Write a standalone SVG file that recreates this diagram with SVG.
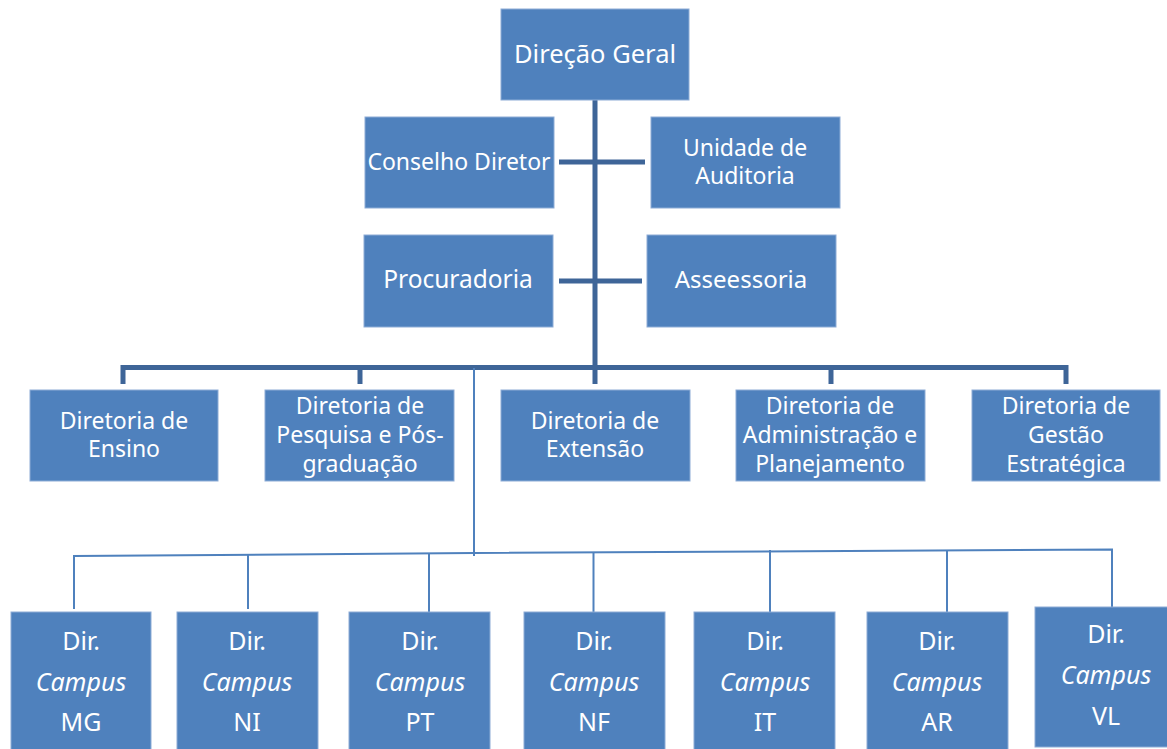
<svg xmlns="http://www.w3.org/2000/svg" width="1167" height="749" viewBox="0 0 1167 749">
<style>
.box{fill:#4F81BD;stroke:#8DACD6;stroke-width:1}
.t{font-family:"Noto Sans","Open Sans",sans-serif;font-size:23px;fill:#FFFFFF;text-anchor:middle}
.b{font-size:24px}
.c{font-size:25px}
.i{font-style:italic}
.thick{stroke:#3E6598;stroke-width:5;fill:none}
.thin{stroke:#4F81BD;stroke-width:2;fill:none}
</style>
<rect width="1167" height="749" fill="#FFFFFF"/>
<g id="connectors">
<line class="thick" x1="595" y1="100" x2="595" y2="384"/>
<line class="thick" x1="559" y1="162" x2="645" y2="162"/>
<line class="thick" x1="559" y1="281" x2="642" y2="281"/>
<polyline class="thick" points="123,384 123,367.5 1066,367.5 1066,384"/>
<line class="thick" x1="360" y1="367" x2="360" y2="384"/>
<line class="thick" x1="831" y1="367" x2="831" y2="384"/>
<line class="thin" x1="474" y1="368" x2="474" y2="556"/>
<polyline class="thin" points="74,609 74,556 474,553 1112,549.5 1112,607"/>
<line class="thin" x1="248" y1="555" x2="248" y2="609"/>
<line class="thin" x1="429" y1="554" x2="429" y2="614"/>
<line class="thin" x1="593.5" y1="553" x2="593.5" y2="614"/>
<line class="thin" x1="770" y1="550" x2="770" y2="612"/>
<line class="thin" x1="947" y1="550" x2="947" y2="612"/>
</g>
<g id="direcao-geral"><rect class="box" x="501" y="9" width="188" height="91"/><text class="t" x="595" y="63" style="font-size:25.5px">Direção Geral</text></g>
<g id="conselho-diretor"><rect class="box" x="365" y="117" width="189" height="91"/><text class="t" x="459" y="170">Conselho Diretor</text></g>
<g id="unidade-auditoria"><rect class="box" x="651" y="117" width="189" height="91"/><text class="t" x="745" y="156">Unidade de</text><text class="t" x="745" y="184">Auditoria</text></g>
<g id="procuradoria"><rect class="box" x="364" y="235" width="189" height="92"/><text class="t" x="458" y="288" style="font-size:24.5px">Procuradoria</text></g>
<g id="asseessoria"><rect class="box" x="647" y="235" width="189" height="92"/><text class="t b" x="741" y="288">Asseessoria</text></g>
<g id="dir-ensino"><rect class="box" x="30" y="390" width="188" height="91"/><text class="t" x="124" y="429">Diretoria de</text><text class="t" x="124" y="457">Ensino</text></g>
<g id="dir-pesquisa"><rect class="box" x="265" y="390" width="189" height="91"/><text class="t" x="360" y="414">Diretoria de</text><text class="t" x="360" y="443">Pesquisa e Pós-</text><text class="t" x="360" y="472">graduação</text></g>
<g id="dir-extensao"><rect class="box" x="501" y="390" width="189" height="91"/><text class="t" x="595" y="429">Diretoria de</text><text class="t" x="595" y="457">Extensão</text></g>
<g id="dir-administracao"><rect class="box" x="736" y="390" width="189" height="91"/><text class="t" x="830" y="414">Diretoria de</text><text class="t" x="830" y="443">Administração e</text><text class="t" x="830" y="472">Planejamento</text></g>
<g id="dir-gestao"><rect class="box" x="972" y="390" width="188" height="91"/><text class="t" x="1066" y="414">Diretoria de</text><text class="t" x="1066" y="443">Gestão</text><text class="t" x="1066" y="472">Estratégica</text></g>
<g id="campus-mg"><rect class="box" x="11" y="612" width="140" height="142"/><text class="t c" x="81" y="650">Dir.</text><text class="t c i" x="81" y="691">Campus</text><text class="t c" x="81" y="731">MG</text></g>
<g id="campus-ni"><rect class="box" x="177" y="612" width="141" height="142"/><text class="t c" x="247" y="650">Dir.</text><text class="t c i" x="247" y="691">Campus</text><text class="t c" x="247" y="731">NI</text></g>
<g id="campus-pt"><rect class="box" x="349" y="612" width="141" height="142"/><text class="t c" x="420" y="650">Dir.</text><text class="t c i" x="420" y="691">Campus</text><text class="t c" x="420" y="731">PT</text></g>
<g id="campus-nf"><rect class="box" x="524" y="612" width="141" height="142"/><text class="t c" x="594" y="650">Dir.</text><text class="t c i" x="594" y="691">Campus</text><text class="t c" x="594" y="731">NF</text></g>
<g id="campus-it"><rect class="box" x="694" y="612" width="141" height="142"/><text class="t c" x="765" y="650">Dir.</text><text class="t c i" x="765" y="691">Campus</text><text class="t c" x="765" y="731">IT</text></g>
<g id="campus-ar"><rect class="box" x="867" y="612" width="141" height="142"/><text class="t c" x="937" y="650">Dir.</text><text class="t c i" x="937" y="691">Campus</text><text class="t c" x="937" y="731">AR</text></g>
<g id="campus-vl"><rect class="box" x="1035" y="607" width="141" height="140"/><text class="t c" x="1106" y="643">Dir.</text><text class="t c i" x="1106" y="684">Campus</text><text class="t c" x="1106" y="725">VL</text></g>
</svg>
